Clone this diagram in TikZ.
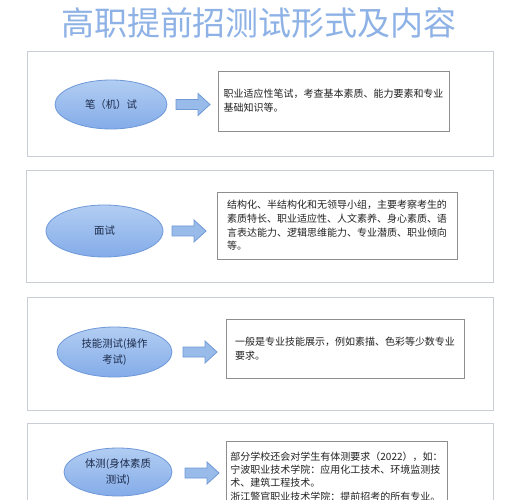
\documentclass[tikz,border=0pt]{standalone}
\usepackage{fontspec}
\setmainfont{Noto Sans CJK SC}
\newfontfamily\cjk{Noto Sans CJK SC}
\usetikzlibrary{shapes.geometric}
\definecolor{titleblue}{HTML}{8EB2E6}
\definecolor{panelgray}{HTML}{C8CDD6}
\definecolor{boxgray}{HTML}{8E8E8E}
\definecolor{elltop}{HTML}{B2CDF2}
\definecolor{ellbot}{HTML}{84ACE9}
\definecolor{elldraw}{HTML}{6E98D8}
\definecolor{arrfill}{HTML}{98BBEA}
\definecolor{arrdraw}{HTML}{6F9AD6}
\definecolor{navy}{HTML}{1B2A4A}
\definecolor{bodytext}{HTML}{222222}
\tikzset{
  panel/.style={draw=panelgray, line width=1pt, fill=white},
  ellnode/.style={ellipse, draw=elldraw, line width=0.8pt, top color=elltop, bottom color=ellbot,
    inner sep=0pt, align=center, text=navy, font=\cjk\fontsize{10.4}{16}\selectfont},
  tbox/.style={draw=boxgray, line width=0.8pt, fill=white, inner sep=0pt, align=left,
    text=bodytext, font=\cjk\fontsize{10}{13.7}\selectfont},
  arrsty/.style={draw=arrdraw, line width=0.8pt, fill=arrfill},
  barrow/.pic={\path[arrsty] (0,-5) -- (22,-5) -- (22,-11) -- (34,0) -- (22,11) -- (22,5) -- (0,5) -- cycle;}
}
\begin{document}
\begin{tikzpicture}[x=1pt,y=-1pt]
\clip (0,0) rectangle (520,500);
\fill[white] (0,0) rectangle (520,500);
\node[text=titleblue, font=\cjk\fontsize{33}{38}\selectfont, inner sep=0pt] (title) at (259,23) {高职提前招测试形式及内容};

% panel 1
\draw[panel] (27,52) rectangle (493,157);
\node[ellnode, minimum width=112pt, minimum height=49pt] (e1) at (111,104.5) {笔（机）试};
\pic at (176,104.5) {barrow};
\node[tbox, minimum width=231pt, minimum height=60pt] (b1) at (333.5,101) {职业适应性笔试，考查基本素质、能力要素和专业\\基础知识等。};

% panel 2
\draw[panel] (26,171) rectangle (493,282);
\node[ellnode, minimum width=117pt, minimum height=52pt] (e2) at (104.5,231) {面试};
\pic at (172,231) {barrow};
\node[tbox, minimum width=240pt, minimum height=67pt] (b2) at (337,225.5) {结构化、半结构化和无领导小组，主要考察考生的\\素质特长、职业适应性、人文素养、身心素质、语\\言表达能力、逻辑思维能力、专业潜质、职业倾向\\等。};

% panel 3
\draw[panel] (27,297) rectangle (493,410);
\node[ellnode, minimum width=115pt, minimum height=50pt] (e3) at (114.5,352) {技能测试(操作\\考试)};
\pic at (183,352) {barrow};
\node[tbox, minimum width=238pt, minimum height=59pt] (b3) at (345,348.5) {一般是专业技能展示，例如素描、色彩等少数专业\\要求。};

% panel 4
\draw[panel] (27,423) rectangle (493,520);
\node[ellnode, minimum width=108pt, minimum height=48pt] (e4) at (118,472) {体测(身体素质\\测试)};
\pic at (185,473) {barrow};
\node[tbox, minimum width=221pt, anchor=north, inner ysep=2pt, minimum height=70pt,
  font=\cjk\fontsize{10}{13.3}\selectfont] (b4) at (336.5,441) {部分学校还会对学生有体测要求（2022），如：\\宁波职业技术学院：应用化工技术、环境监测技\\术、建筑工程技术。\\浙江警官职业技术学院：提前招考的所有专业。};
\end{tikzpicture}
\end{document}
